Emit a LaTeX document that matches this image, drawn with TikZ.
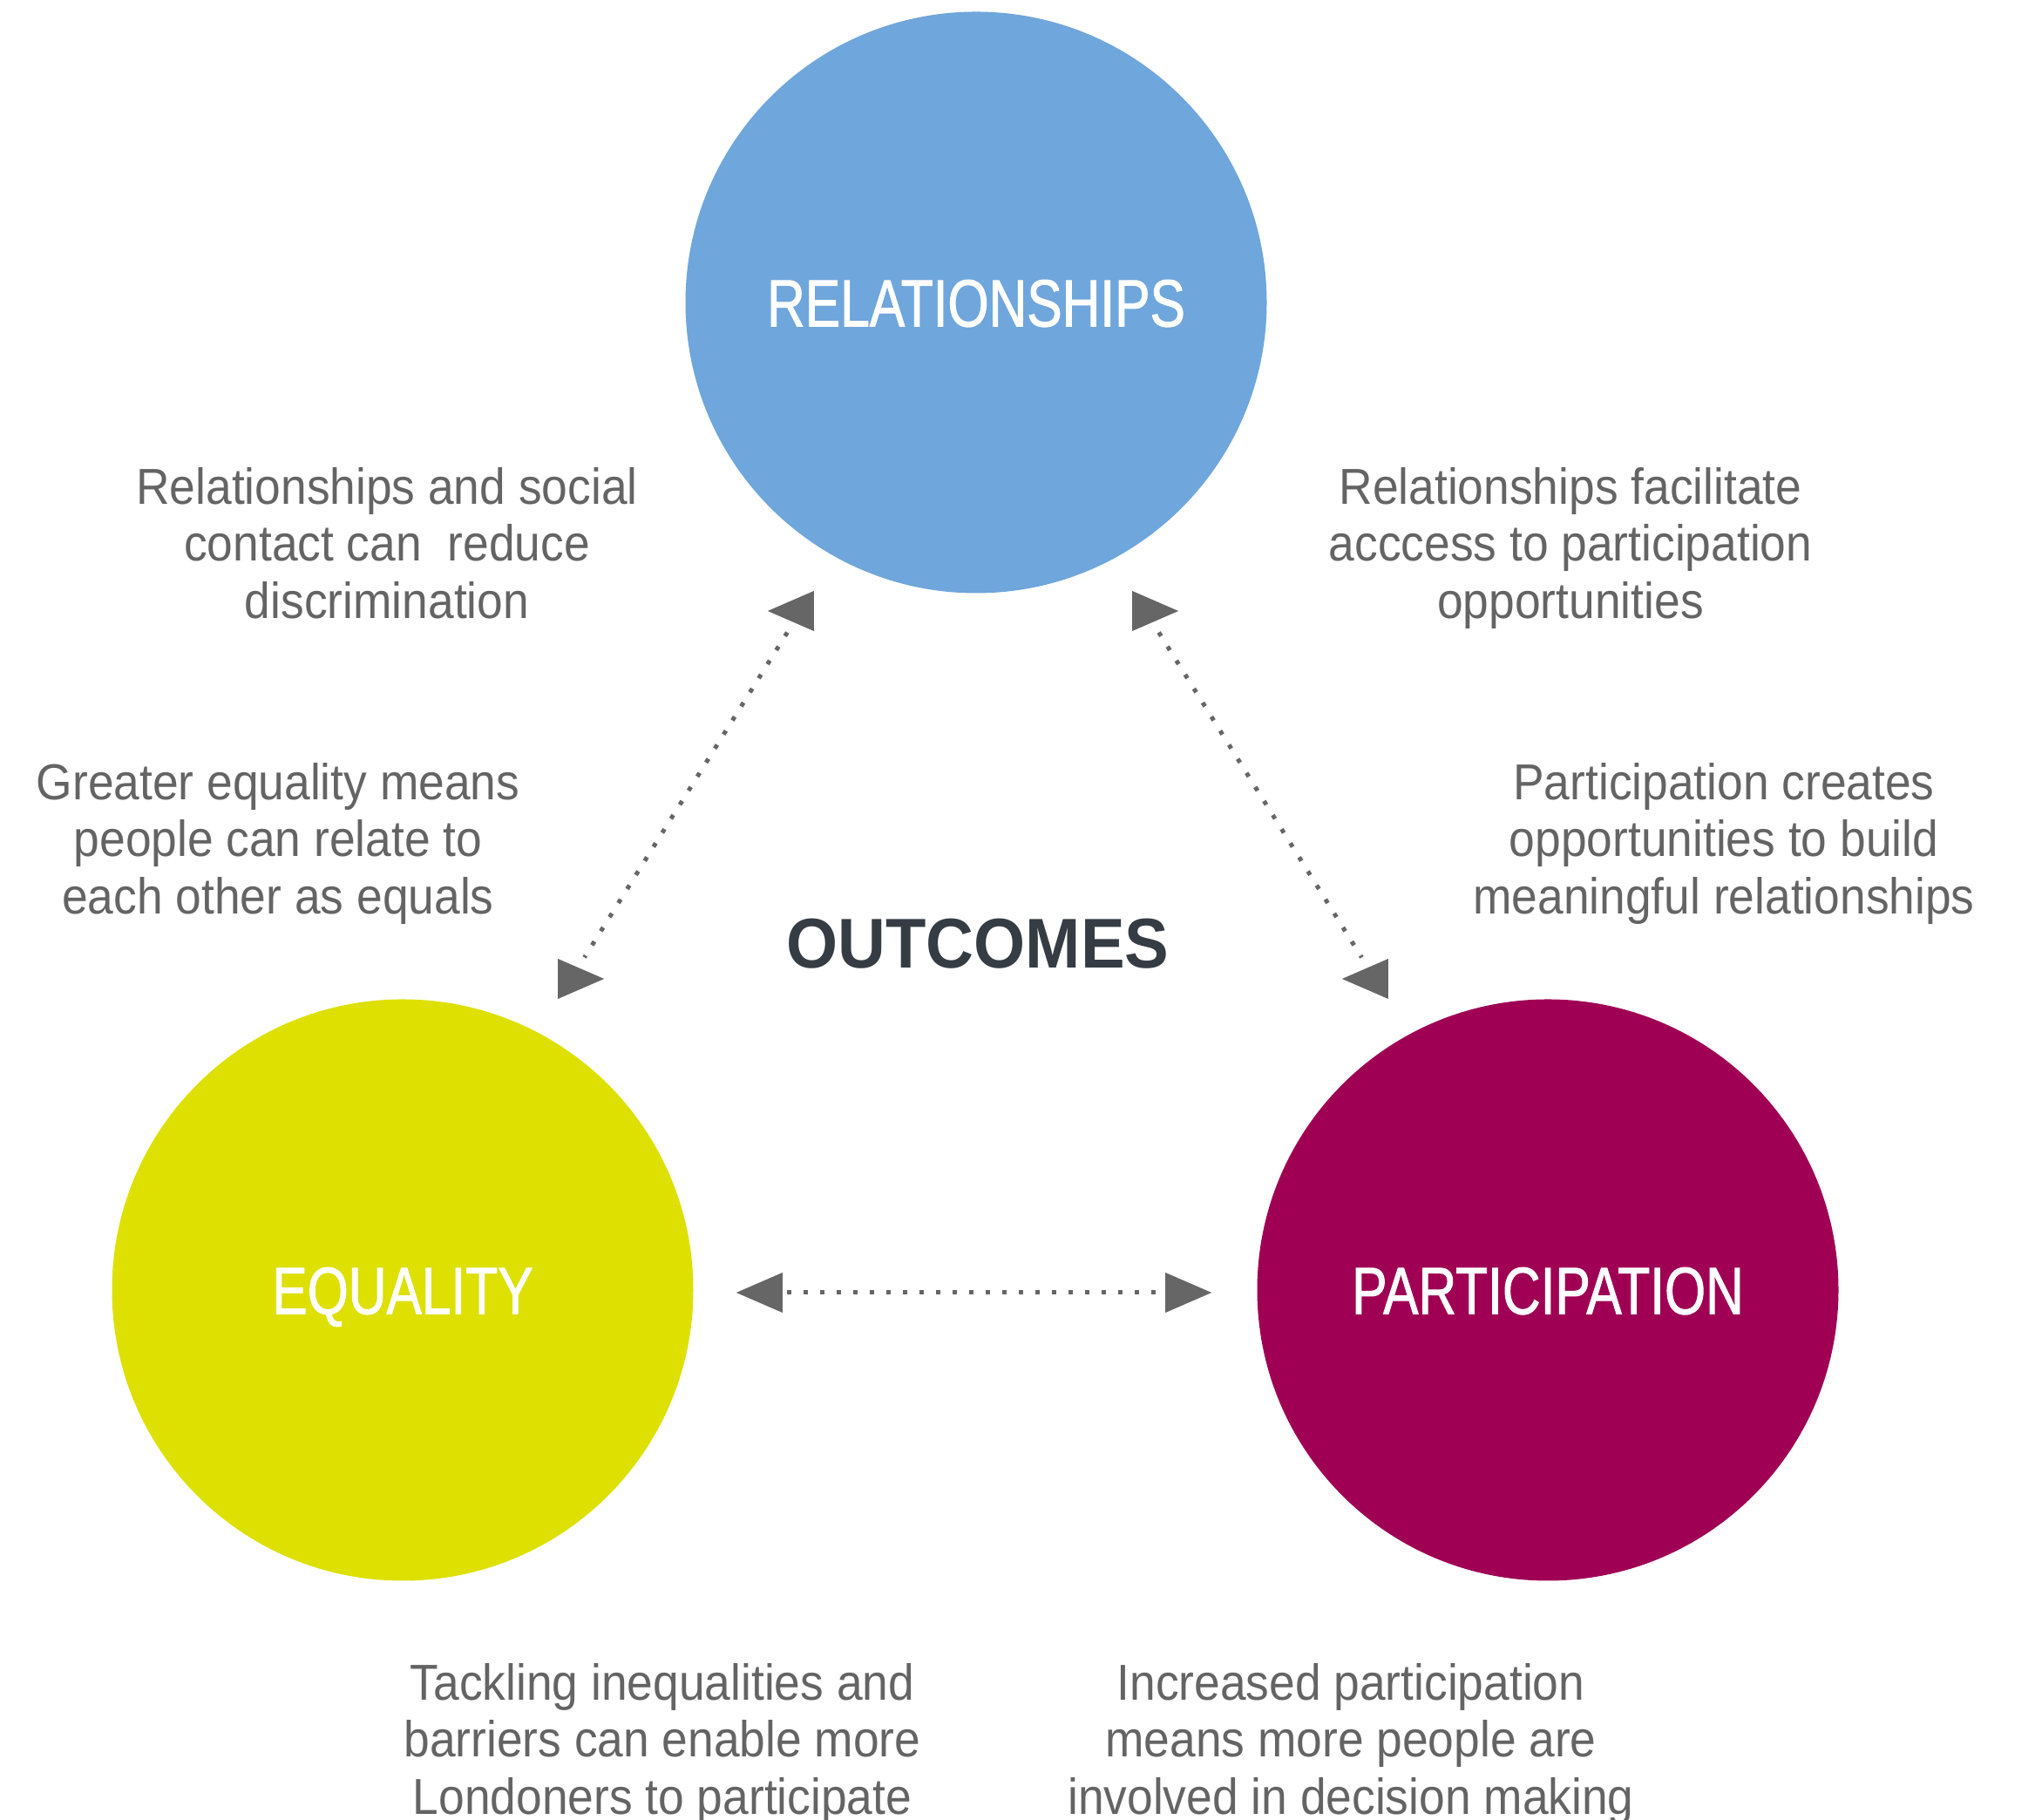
\documentclass[tikz,border=0pt]{standalone}
\usepackage{fontspec}
\setmainfont{Liberation Sans}[FakeStretch=0.92]
\newfontfamily\circlefont{Liberation Sans}[FakeStretch=0.79, FakeBold=1.2]
\newfontfamily\headfont{Liberation Sans}[FakeStretch=0.94]
\usetikzlibrary{shapes.geometric}

\definecolor{relblue}{HTML}{6FA6DC}
\definecolor{eqyellow}{HTML}{DDE000}
\definecolor{parmagenta}{HTML}{A00054}
\definecolor{arrowgray}{HTML}{666666}
\definecolor{textgray}{HTML}{646464}
\definecolor{headdark}{HTML}{353C44}

\begin{document}
\begin{tikzpicture}[
    outcome/.style={circle, minimum size=6.67cm, inner sep=0pt, text=white,
        font=\circlefont\fontsize{21.8}{26}\selectfont, text height=0.55cm, text depth=0pt},
    tri/.style={isosceles triangle, isosceles triangle stretches, fill=arrowgray,
        minimum width=0.46cm, minimum height=0.53cm, inner sep=0pt, anchor=apex},
    link/.style={arrowgray, line width=0.05cm, dash pattern=on 0.05cm off 0.14cm,
        shorten <=0.13cm, shorten >=0.13cm},
    note/.style={align=center, text=textgray, font=\fontsize{16.5}{18.6}\selectfont}]
    \useasboundingbox (0,0) rectangle (23.35,20.88);

    \node[outcome, fill=relblue] (rel) at (11.20,17.41) {RELATIONSHIPS};
    \node[outcome, fill=eqyellow] (eq) at (4.62,6.08) {EQUALITY};
    \node[outcome, fill=parmagenta] (par) at (17.76,6.08) {PARTICIPATION};

    \node[text=headdark, font=\headfont\bfseries\fontsize{23}{28}\selectfont] (outc) at (11.22,10.05) {OUTCOMES};

    %% arrow heads
    \node[tri, shape border rotate=180] (relL) at (8.79,13.87) {};
    \node[tri] (eqT) at (6.95,9.65) {};
    \node[tri] (relR) at (13.54,13.87) {};
    \node[tri, shape border rotate=180] (parT) at (15.38,9.65) {};
    \node[tri, shape border rotate=180] (eqR) at (8.43,6.05) {};
    \node[tri] (parL) at (13.92,6.05) {};

    \draw[link] (relL) -- (eqT);
    \draw[link] (relR) -- (parT);
    \draw[link, shorten <=0.04cm, shorten >=0.02cm] (eqR) -- (parL);

    \node[note] (relEq) at (4.44,14.65) {Relationships and social\\contact can~ reduce\\discrimination};
    \node[note] (relPar) at (18.02,14.59) {Relationships facilitate\\acccess to participation\\opportunities};
    \node[note] (eqRel) at (3.19,11.20) {Greater equality means\\people can relate to\\each other as equals};
    \node[note] (parRel) at (19.78,11.20) {Participation creates\\opportunities to build\\meaningful relationships};
    \node[note] (eqPar) at (7.60,0.87) {Tackling inequalities and\\barriers can enable more\\Londoners to participate};
    \node[note] (parEq) at (15.50,0.87) {Increased participation\\means more people are\\involved in decision making};
\end{tikzpicture}
\end{document}
